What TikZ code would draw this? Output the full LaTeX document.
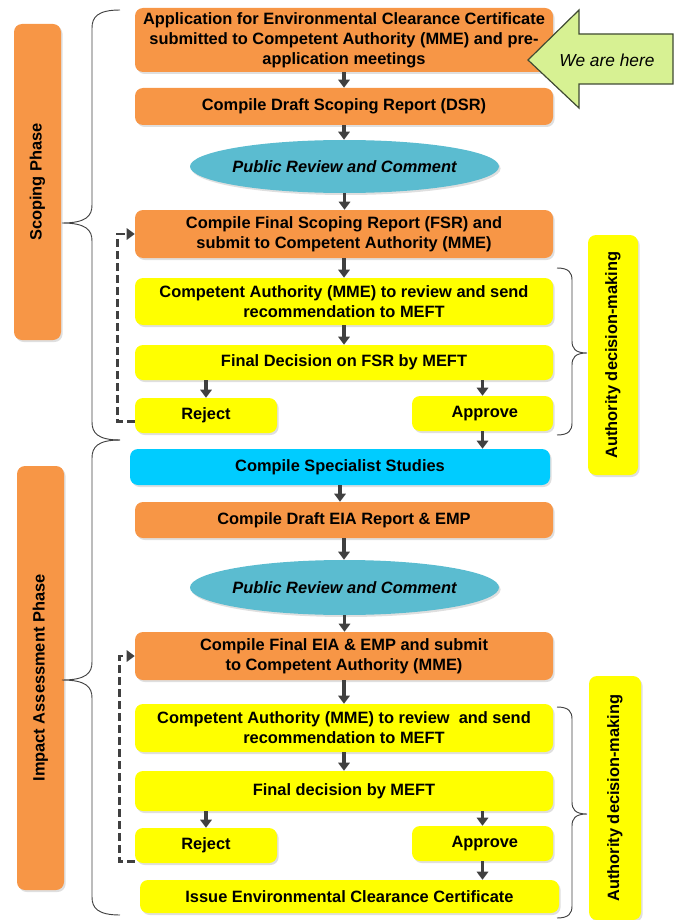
\documentclass[tikz,border=0pt]{standalone}
\usepackage{fontspec}
\setmainfont{Liberation Sans}
\usepackage{tikz}
\usetikzlibrary{arrows.meta}
\usetikzlibrary{positioning,shapes.geometric,shadows}
\definecolor{boxorange}{HTML}{F79646}
\definecolor{boxyellow}{HTML}{FFFF00}
\definecolor{boxcyan}{HTML}{00CCFF}
\definecolor{boxteal}{HTML}{5BBCD0}
\definecolor{herefill}{HTML}{D7F193}
\definecolor{hereline}{HTML}{3F4A33}
\definecolor{linedark}{HTML}{404040}
\tikzset{
    flow nodes/.style={
        rounded corners=6pt,
        align=center,
        inner sep=1pt,
        font=\fontsize{12.3}{15}\selectfont\bfseries,
        drop shadow={shadow xshift=1.2pt,shadow yshift=-1.5pt,opacity=0.25}
    },
    px size/.style 2 args={
        minimum width=#1*0.75pt,
        minimum height=#2*0.75pt
    },
    orange box/.style={flow nodes, fill=boxorange},
    yellow box/.style={flow nodes, fill=boxyellow},
    cyan box/.style={flow nodes, fill=boxcyan},
    review ellipse/.style={
        flow nodes,
        ellipse,
        inner xsep=-10pt,
        inner ysep=0pt,
        fill=boxteal,
        font=\fontsize{12.3}{14}\selectfont\bfseries\itshape
    },
    flow arrow/.style={
        draw=linedark,
        line width=2.3pt,
        -{Triangle[width=8.5pt,length=6pt]}
    },
    loop back/.style={
        flow arrow,
        line width=2pt,
        dash pattern=on 6pt off 3pt
    },
    brace line/.style={
        draw=linedark,
        line width=0.7pt
    }
}
\begin{document}
\begin{tikzpicture}[x=0.75pt,y=-0.75pt]
  \useasboundingbox (0,0) rectangle (681,920);
  % scoping phase
  \node[orange box, px size={418}{64}] (app) at (344,40)
    {Application for Environmental Clearance Certificate\\submitted to Competent Authority (MME) and pre-\\application meetings};
  \node[orange box, px size={418}{37}] (dsr) at (344,106.5) {Compile Draft Scoping Report (DSR)};
  \node[review ellipse, px size={309}{53}] (pub1) at (344.5,166.5) {Public Review and Comment};
  \node[orange box, px size={418}{48}] (fsr) at (344,234)
    {Compile Final Scoping Report (FSR) and\\submit to Competent Authority (MME)};
  \node[yellow box, px size={418}{47}] (rev1) at (344,301.5)
    {Competent Authority (MME) to review and send\\recommendation to MEFT};
  \node[yellow box, px size={418}{35}] (dec1) at (344,362.5) {Final Decision on FSR by MEFT};
  \node[yellow box, px size={142}{35}] (rej1) at (206,415.5) {Reject};
  \node[yellow box, px size={141}{35}] (app1) at (482.5,413.5) {\ Approve};
  % impact assessment phase
  \node[cyan box, px size={420}{36}] (spec) at (340,467) {Compile Specialist Studies};
  \node[orange box, px size={418}{36}] (deia) at (344,520) {Compile Draft EIA Report \& EMP};
  \node[review ellipse, px size={309}{55}] (pub2) at (344.5,587.5) {Public Review and Comment};
  \node[orange box, px size={418}{48}] (feia) at (344,656)
    {Compile Final EIA \& EMP and submit\\to Competent Authority (MME)};
  \node[yellow box, px size={418}{48}] (rev2) at (344,728)
    {Competent Authority (MME) to review \ and send\\recommendation to MEFT};
  \node[yellow box, px size={418}{40}] (dec2) at (344,791) {Final decision by MEFT};
  \node[yellow box, px size={142}{35}] (rej2) at (206,845.5) {Reject};
  \node[yellow box, px size={141}{35}] (app2) at (482.5,843.5) {\ Approve};
  \node[yellow box, px size={419}{33}] (issue) at (349.5,896.5) {Issue Environmental Clearance Certificate};
  % side labels
  \node[orange box, rotate=90, px size={316}{47}] (scop) at (37.5,182) {Scoping Phase};
  \node[orange box, rotate=90, px size={424}{47}] (impact) at (40.5,678) {Impact Assessment Phase};
  \node[yellow box, rotate=90, px size={240}{50}] (auth1) at (613,355) {Authority decision-making};
  \node[yellow box, rotate=90, px size={244}{52}] (auth2) at (615,798) {Authority decision-making};
  % we are here
  \draw[fill=herefill, draw=hereline, line width=0.9pt]
    (528,60) -- (579,10) -- (579,34) -- (673,34) -- (673,84) -- (579,84) -- (579,108) -- cycle;
  \node[font=\fontsize{13}{15}\selectfont\itshape] (here) at (607,60) {We are here};
  % braces: x/top/tip/bottom/side/arm/reach/curl
  \foreach \bx/\ya/\ym/\yb/\dir/\arm/\amp/\cu in {120/10/223/440/-1/28/58/18,
                                                 120/440/680/915/-1/28/58/18,
                                                 557/268/353/435/1/15/30/12,
                                                 557/707/814/918/1/15/30/12}
    \draw[brace line] (\bx,\ya)
      .. controls ({\bx+\dir*\arm*0.8},\ya) and ({\bx+\dir*\arm},{\ya+\cu*0.4}) .. ({\bx+\dir*\arm},{\ya+\cu})
      -- ({\bx+\dir*\arm},{\ym-\cu})
      .. controls ({\bx+\dir*\arm},{\ym-\cu*0.4}) and ({\bx+\dir*\arm*1.2},\ym) .. ({\bx+\dir*\amp},\ym)
      .. controls ({\bx+\dir*\arm*1.2},\ym) and ({\bx+\dir*\arm},{\ym+\cu*0.4}) .. ({\bx+\dir*\arm},{\ym+\cu})
      -- ({\bx+\dir*\arm},{\yb-\cu})
      .. controls ({\bx+\dir*\arm},{\yb-\cu*0.4}) and ({\bx+\dir*\arm*0.8},\yb) .. (\bx,\yb);
  % arrows
  \foreach \s/\t in {app/dsr,dsr/pub1,pub1/fsr,fsr/rev1,rev1/dec1,app1/spec,spec/deia,
                     deia/pub2,pub2/feia,feia/rev2,rev2/dec2,app2/issue}
    \draw[flow arrow] (\s.south) -- (\s.south |- \t.north);
  \foreach \s/\t in {dec1/rej1,dec1/app1,dec2/rej2,dec2/app2}
    \draw[flow arrow] (\s.south -| \t.north) -- (\t.north);
  \draw[loop back] ([yshift=-4.5pt]rej1.west) -- ++(-17,0) |- (fsr.west);
  \draw[loop back] ([yshift=-12pt]rej2.west) -- ++(-15,0) |- (feia.west);
\end{tikzpicture}
\end{document}
